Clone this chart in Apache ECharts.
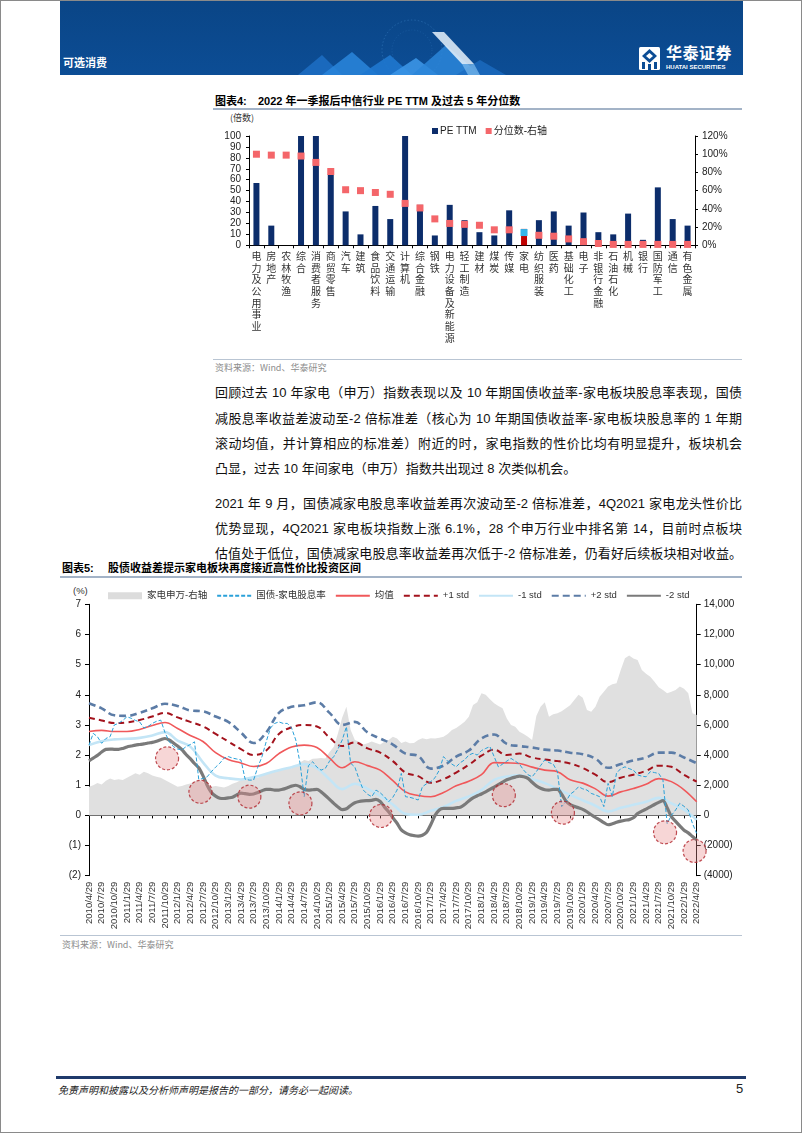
<!DOCTYPE html>
<html>
<head>
<meta charset="utf-8">
<script src="https://cdn.jsdelivr.net/npm/echarts@6/dist/echarts.min.js"></script>
<style>
  html,body{margin:0;padding:0;background:#fff;}
  #page{position:relative;width:802px;height:1133px;overflow:hidden;background:#fff;
        font-family:"Liberation Sans","Noto Sans CJK SC",sans-serif;color:#000;}
  .abs{position:absolute;white-space:nowrap;}
  .frame{position:absolute;left:0;top:0;width:802px;height:1133px;box-sizing:border-box;border:1px solid #8a8a8a;pointer-events:none;z-index:5;}
  .title{font-family:"Liberation Sans","Noto Sans CJK SC",sans-serif;font-weight:bold;font-size:11px;line-height:15px;color:#000;}
  .rule{position:absolute;height:1.5px;background:#a3b3c7;}
  .src{font-family:"Noto Sans CJK SC",sans-serif;font-size:9px;line-height:12px;color:#8c8c8c;}
  .pl{position:absolute;left:215px;width:527px;font-size:13px;line-height:18px;
      font-family:"Liberation Sans","Noto Sans CJK SC",sans-serif;color:#111;
      text-align:justify;text-align-last:justify;white-space:nowrap;}
  .pl.last{text-align:left;text-align-last:left;}
  #chart{position:absolute;left:0;top:0;width:802px;height:1133px;z-index:3;}
</style>
</head>
<body>
<div id="page">
  <!-- header banner -->
  <div style="position:absolute;left:60px;top:0;width:683px;height:75px;background:linear-gradient(180deg,#0a4586 0%,#0c4d95 100%);overflow:hidden;">
    <svg width="683" height="75" xmlns="http://www.w3.org/2000/svg">
      <circle cx="352" cy="50" r="30" fill="none" stroke="#5aa6ea" stroke-opacity="0.35" stroke-width="0.8" stroke-dasharray="1.5 2"/>
      <circle cx="352" cy="50" r="20" fill="none" stroke="#5aa6ea" stroke-opacity="0.3" stroke-width="0.6" stroke-dasharray="1 2"/>
      <polygon points="238,75 262,55 282,75" fill="#1d6fc4" opacity="0.85"/>
      <polygon points="262,75 292,52 318,75" fill="#2a86dc" opacity="0.85"/>
      <polygon points="300,75 330,55 352,75" fill="#1f78cf" opacity="0.9"/>
      <polygon points="330,75 356,58 378,75" fill="#3b95e6" opacity="0.9"/>
      <polygon points="352,75 386,45 420,75" fill="#2b86d9" opacity="0.85"/>
      <polygon points="396,75 420,60 446,75" fill="#1c6cc0" opacity="0.8"/>
      <polygon points="372,32 384,32 414,64 402,64" fill="#e8f2fc" opacity="0.85"/>
      <polygon points="402,64 414,64 420,75 408,75" fill="#7fbdf0" opacity="0.7"/>
      <rect x="579" y="47" width="21" height="23" rx="1.5" fill="#ffffff"/>
      <polygon points="589.5,49 597,56 589.5,63 582,56" fill="#0c4d95"/>
      <polygon points="589.5,53 593,56 589.5,59 586,56" fill="#ffffff"/>
      <rect x="582" y="62" width="3" height="7" fill="#0c4d95"/>
      <rect x="588" y="64" width="3" height="6" fill="#0c4d95"/>
      <rect x="594" y="62" width="3" height="7" fill="#0c4d95"/>
    </svg>
    <div class="abs" style="left:3px;top:55px;font-family:'Noto Sans CJK SC';font-weight:bold;font-size:11px;line-height:14px;color:#fff;">可选消费</div>
    <div class="abs" style="left:606px;top:43px;font-family:'Noto Sans CJK SC';font-weight:bold;font-size:16px;line-height:19px;color:#fff;letter-spacing:0.5px;">华泰证券</div>
    <div class="abs" style="left:606px;top:63px;font-family:'Liberation Sans';font-weight:bold;font-size:6px;line-height:8px;color:#fff;">HUATAI SECURITIES</div>
  </div>

  <!-- chart 4 title -->
  <div class="abs title" style="left:215px;top:94px;">图表4:</div>
  <div class="abs title" style="left:258px;top:94px;">2022 年一季报后中信行业 PE TTM 及过去 5 年分位数</div>
  <div class="rule" style="left:213px;top:108px;width:529px;"></div>
  <div class="abs" style="left:230px;top:112px;font-family:'Noto Sans CJK SC';font-size:9px;line-height:12px;color:#333;">(倍数)</div>
  <div class="rule" style="left:213px;top:358.5px;width:529px;height:1px;background:#b9c5d3;"></div>
  <div class="abs src" style="left:215px;top:362px;">资料来源：Wind、华泰研究</div>

  <!-- paragraphs -->
  <div class="pl" style="top:384px;">回顾过去 10 年家电（申万）指数表现以及 10 年期国债收益率-家电板块股息率表现，国债</div>
  <div class="pl" style="top:410px;">减股息率收益差波动至-2 倍标准差（核心为 10 年期国债收益率-家电板块股息率的 1 年期</div>
  <div class="pl" style="top:435px;">滚动均值，并计算相应的标准差）附近的时，家电指数的性价比均有明显提升，板块机会</div>
  <div class="pl last" style="top:460px;">凸显，过去 10 年间家电（申万）指数共出现过 8 次类似机会。</div>

  <div class="pl" style="top:495px;">2021 年 9 月，国债减家电股息率收益差再次波动至-2 倍标准差，4Q2021 家电龙头性价比</div>
  <div class="pl" style="top:520px;">优势显现，4Q2021 家电板块指数上涨 6.1%，28 个申万行业中排名第 14，目前时点板块</div>
  <div class="pl" style="top:545px;">估值处于低位，国债减家电股息率收益差再次低于-2 倍标准差，仍看好后续板块相对收益。</div>

  <!-- chart 5 title -->
  <div class="abs title" style="left:62px;top:561px;">图表5:</div>
  <div class="abs title" style="left:108px;top:561px;">股债收益差提示家电板块再度接近高性价比投资区间</div>
  <div class="rule" style="left:60px;top:576px;width:682px;"></div>
  <div class="abs" style="left:73px;top:585px;font-family:'Liberation Sans';font-size:9.5px;line-height:12px;color:#333;">(%)</div>
  <div class="rule" style="left:60px;top:934.5px;width:682px;height:1px;background:#b9c5d3;"></div>
  <div class="abs src" style="left:62px;top:939px;">资料来源：Wind、华泰研究</div>

  <!-- footer -->
  <div style="position:absolute;left:56px;top:1076px;width:690px;height:2.5px;background:#1f3a6b;"></div>
  <div class="abs" style="left:58px;top:1083px;font-family:'Noto Sans CJK SC';font-style:italic;font-size:10px;line-height:14px;color:#222;">免责声明和披露以及分析师声明是报告的一部分，请务必一起阅读。</div>
  <div class="abs" style="left:736px;top:1081px;font-family:'Liberation Sans';font-size:13px;line-height:16px;color:#222;">5</div>

  <div id="chart"></div>
  <div class="frame"></div>
</div>

<script>
// ---------------- Chart 4 data ----------------
const industries = ['电力及公用事业','房地产','农林牧渔','综合','消费者服务','商贸零售','汽车','建筑','食品饮料','交通运输',
  '计算机','综合金融','钢铁','电力设备及新能源','轻工制造','建材','煤炭','传媒','家电','纺织服装',
  '医药','基础化工','电子','非银行金融','石油石化','机械','银行','国防军工','通信','有色金属'];
const peTTM = [57,18,0,100,100,65,31,10,36,24,100,37,9,37,23,12,9,32,15,23,31,18,30,12,10,29,5,53,24,18];
const pctRank = [100,99,99,98,91,81,61,60,58,56,46,41,29,24,23,22,17,17,14,11,10,7,4,2,1,1,1,1,1,1];
const highlightIndustry = '家电';

// ---------------- Chart 5 data ----------------
const quarterLabels = ['2010/4/29','2010/7/29','2010/10/29',
  '2011/1/29','2011/4/29','2011/7/29','2011/10/29',
  '2012/1/29','2012/4/29','2012/7/29','2012/10/29',
  '2013/1/29','2013/4/29','2013/7/29','2013/10/29',
  '2014/1/29','2014/4/29','2014/7/29','2014/10/29',
  '2015/1/29','2015/4/29','2015/7/29','2015/10/29',
  '2016/1/29','2016/4/29','2016/7/29','2016/10/29',
  '2017/1/29','2017/4/29','2017/7/29','2017/10/29',
  '2018/1/29','2018/4/29','2018/7/29','2018/10/29',
  '2019/1/29','2019/4/29','2019/7/29','2019/10/29',
  '2020/1/29','2020/4/29','2020/7/29','2020/10/29',
  '2021/1/29','2021/4/29','2021/7/29','2021/10/29',
  '2022/1/29','2022/4/29'];

// monthly values (2010/4 .. 2022/4)
const homeApplIndex = [1900,2000,2150,2050,2300,2450,2350,2400,2340,2500,2650,2790,2700,2900,2800,2650,2560,2500,2340,2200,
  2050,1900,1950,2050,2120,2250,2340,2200,2000,1900,1950,1900,1850,1950,2100,2200,2340,2450,2500,2570,
  2500,2650,2790,2850,2950,3000,3050,3150,3120,3300,3500,3670,3600,3750,3780,3800,3780,4200,4560,5440,
  6500,7200,5660,5000,4890,4700,4780,4900,4800,4700,4890,5000,5220,5100,4800,4900,4780,4800,5000,5110,
  5050,5110,5100,5150,5220,5400,5660,5800,6000,6210,6550,7320,7500,8100,8000,7700,7430,7250,7100,6430,
  6000,5880,5550,5400,5220,5000,6600,7210,7500,6550,6700,6770,6900,7100,7300,7650,8000,7800,6990,6880,
  7200,7870,8200,8540,8700,8760,9640,10420,10600,10400,10310,9640,9400,9200,8870,8500,8320,8100,8200,8320,
  8540,8400,8100,6770,6660];
const spread = [2.33,2.72,2.61,2.39,2.55,2.61,3.00,3.05,3.15,3.27,3.22,3.15,3.10,2.90,2.95,3.05,3.12,3.16,2.75,2.45,
  2.28,2.20,2.17,2.28,2.35,2.44,1.20,1.22,1.28,1.45,1.60,1.73,1.90,1.95,1.90,1.87,1.84,1.20,1.17,1.17,
  1.60,1.95,2.45,2.90,3.05,3.10,3.05,3.05,2.90,2.50,1.73,0.62,1.65,1.78,1.60,1.50,1.56,1.80,1.95,2.20,
  2.50,2.94,1.73,1.60,1.20,0.84,0.70,0.62,0.84,0.75,0.62,0.45,0.60,0.84,1.39,0.62,0.60,0.56,0.51,0.95,
  1.05,1.12,1.25,1.50,1.95,1.80,1.70,1.61,1.75,1.84,2.00,2.06,2.00,2.15,2.22,2.28,1.95,1.61,1.70,1.80,
  1.89,1.80,1.70,1.50,1.35,1.28,1.45,1.65,1.84,1.75,1.70,1.45,0.29,0.45,0.70,0.80,0.95,0.88,0.84,0.73,
  0.68,0.62,0.29,1.06,0.62,1.40,1.55,1.61,1.55,1.50,1.34,1.30,1.28,1.45,1.42,1.39,1.17,-0.27,0.00,0.18,
  0.40,0.30,0.18,-0.27,-0.60];
const minus2Std = [1.81,1.90,1.99,2.10,2.19,2.20,2.19,2.19,2.22,2.27,2.30,2.33,2.35,2.37,2.40,2.42,2.46,2.51,2.55,2.50,
  2.40,2.30,2.18,2.02,1.88,1.72,1.58,1.32,1.00,0.76,0.64,0.57,0.56,0.58,0.60,0.68,0.74,0.72,0.70,0.71,
  0.76,0.82,0.86,0.86,0.84,0.84,0.87,0.92,0.97,1.00,0.95,0.86,0.84,0.85,0.86,0.78,0.66,0.53,0.40,0.28,
  0.19,0.22,0.33,0.42,0.46,0.48,0.49,0.50,0.53,0.46,0.28,0.12,-0.08,-0.26,-0.48,-0.58,-0.64,-0.67,-0.69,-0.66,
  -0.56,-0.30,0.00,0.18,0.23,0.23,0.23,0.25,0.27,0.36,0.48,0.58,0.65,0.71,0.78,0.86,0.94,1.02,1.10,1.18,
  1.23,1.27,1.30,1.28,1.23,1.10,0.98,0.90,0.85,0.84,0.86,0.86,0.70,0.48,0.36,0.30,0.25,0.20,0.12,0.02,
  -0.07,-0.15,-0.24,-0.31,-0.28,-0.23,-0.19,-0.16,-0.14,-0.08,0.06,0.14,0.21,0.28,0.36,0.43,0.49,0.25,-0.04,-0.20,
  -0.35,-0.49,-0.58,-0.70,-0.82];
// quarterly values (every 3 months)
const meanLine = [2.78,2.82,2.78,2.78,2.85,2.98,3.08,2.88,2.65,2.45,2.08,1.85,1.74,1.62,1.72,2.05,2.27,2.33,2.25,1.90,
  1.58,1.78,1.65,1.50,1.15,0.78,0.66,0.62,0.76,0.98,1.13,1.35,1.75,1.74,1.72,1.60,1.50,1.45,1.18,1.07,
  0.88,0.64,0.78,0.89,1.03,1.22,1.12,0.85,0.45];
const plus1Std = [3.24,3.15,3.06,3.08,3.16,3.28,3.40,3.25,3.10,2.95,2.70,2.45,2.20,2.00,2.15,2.70,2.92,3.00,2.95,2.58,
  2.30,2.42,2.22,2.08,1.80,1.42,1.30,1.08,1.20,1.42,1.68,1.98,2.18,2.00,2.05,1.92,1.85,1.80,1.72,1.57,
  1.35,1.10,1.25,1.35,1.48,1.65,1.61,1.34,1.12];
const minus1Std = [2.33,2.46,2.52,2.54,2.57,2.65,2.76,2.48,2.28,1.76,1.32,1.23,1.19,1.27,1.38,1.50,1.60,1.70,1.57,1.20,
  0.87,1.05,0.88,0.65,0.36,0.05,0.02,0.15,0.28,0.48,0.63,0.84,1.18,1.29,1.33,1.20,1.07,0.88,0.68,0.50,
  0.32,0.13,0.25,0.35,0.45,0.58,0.40,0.19,-0.15];
const plus2Std = [3.72,3.55,3.32,3.30,3.40,3.55,3.70,3.63,3.48,3.45,3.28,3.10,2.75,2.40,2.75,3.40,3.60,3.65,3.75,3.40,
  3.00,3.10,2.75,2.55,2.35,2.05,1.97,1.55,1.65,1.95,2.15,2.55,2.68,2.37,2.30,2.25,2.18,2.15,2.08,2.03,
  1.88,1.58,1.70,1.82,1.92,2.08,2.08,1.92,1.73];
// highlighted opportunity points (month index, %)
const oppMonth = [18.5,26.4,38.0,50.1,69.2,98.3,112.3,136.5,143.5];
const oppValue = [1.89,0.78,0.62,0.40,-0.02,0.67,0.09,-0.56,-1.18];

// ---------------- build ----------------
const pairs = (arr, step) => arr.map((v, i) => [i * step, v]);
const AX = '#000';
const FONT = 'Liberation Sans, Noto Sans CJK SC, sans-serif';
const CJK = 'Noto Sans CJK SC, sans-serif';
const paren = v => v < 0 ? '(' + (-v) + ')' : String(v);
const parenK = v => v < 0 ? '(' + (-v) + ')' : v.toLocaleString('en-US');

const chart = echarts.init(document.getElementById('chart'), null, {renderer: 'canvas'});
const option = {
  animation: false,
  backgroundColor: 'transparent',
  textStyle: {fontFamily: FONT},
  grid: [
    {left: 249, top: 136, width: 446, height: 109.3},
    {left: 89, top: 604.3, width: 607.7, height: 271.4}
  ],
  legend: [
    {
      left: 427, top: 121, itemWidth: 6, itemHeight: 6, itemGap: 9, icon: 'rect',
      textStyle: {fontSize: 10, color: '#222', fontFamily: FONT, padding: [0, 0, 0, -3]},
      data: ['PE TTM', '分位数-右轴']
    },
    {
      left: 103, top: 586, itemWidth: 34, itemHeight: 7, itemGap: 9,
      itemStyle: {opacity: 0},
      textStyle: {fontSize: 9.5, color: '#333', fontFamily: FONT},
      data: [
        {name: '家电申万-右轴', icon: 'rect', itemStyle: {opacity: 1, color: '#dcdcdc'}},
        '国债-家电股息率', '均值', '+1 std', '-1 std', '+2 std', '-2 std'
      ]
    }
  ],
  xAxis: [
    {
      type: 'category', gridIndex: 0, data: industries,
      axisLine: {lineStyle: {color: AX, width: 1}},
      axisTick: {show: true, length: 3, lineStyle: {color: AX}},
      axisLabel: {
        interval: 0, margin: 5, fontSize: 10, lineHeight: 11.7, color: '#333', fontFamily: CJK,
        formatter: v => v.split('').join('\n')
      },
      splitLine: {show: false}
    },
    {
      type: 'value', gridIndex: 1, min: 0, max: 144, interval: 3,
      axisLine: {onZero: true, lineStyle: {color: AX, width: 1}},
      axisTick: {show: true, length: 3, lineStyle: {color: AX}},
      axisLabel: {show: false},
      splitLine: {show: false}
    },
    {
      type: 'value', gridIndex: 1, min: 0, max: 144, interval: 3, position: 'bottom',
      axisLine: {show: false, onZero: false},
      axisTick: {show: false},
      axisLabel: {
        rotate: 90, margin: 6, fontSize: 9.5, color: '#333', fontFamily: FONT,
        formatter: v => quarterLabels[Math.round(v / 3)] || ''
      },
      splitLine: {show: false}
    }
  ],
  yAxis: [
    {
      type: 'value', gridIndex: 0, min: 0, max: 100, interval: 10, position: 'left',
      axisLine: {show: true, onZero: false, lineStyle: {color: AX}},
      axisTick: {show: true, length: 3, lineStyle: {color: AX}},
      axisLabel: {fontSize: 10, color: '#222', margin: 8},
      splitLine: {show: false}
    },
    {
      type: 'value', gridIndex: 0, min: 0, max: 120, interval: 20, position: 'right',
      axisLine: {show: true, onZero: false, lineStyle: {color: AX}},
      axisTick: {show: true, length: 3, lineStyle: {color: AX}},
      axisLabel: {fontSize: 10, color: '#222', margin: 7, formatter: '{value}%'},
      splitLine: {show: false}
    },
    {
      type: 'value', gridIndex: 1, min: -2, max: 7, interval: 1, position: 'left',
      axisLine: {show: true, onZero: false, lineStyle: {color: AX}},
      axisTick: {show: true, length: 4, lineStyle: {color: AX}},
      axisLabel: {fontSize: 10, color: '#222', margin: 8, formatter: paren},
      splitLine: {show: false}
    },
    {
      type: 'value', gridIndex: 1, min: -4000, max: 14000, interval: 2000, position: 'right',
      axisLine: {show: true, onZero: false, lineStyle: {color: AX}},
      axisTick: {show: true, length: 4, lineStyle: {color: AX}},
      axisLabel: {fontSize: 10, color: '#222', margin: 7, formatter: parenK},
      splitLine: {show: false}
    }
  ],
  series: [
    {
      name: 'PE TTM', type: 'bar', xAxisIndex: 0, yAxisIndex: 0, barWidth: 6,
      itemStyle: {color: '#0c2d6b'},
      data: peTTM.map((v, i) => industries[i] === highlightIndustry ? {value: v, itemStyle: {color: '#c00000'}} : v),
      z: 2
    },
    {
      name: '分位数-右轴', type: 'scatter', xAxisIndex: 0, yAxisIndex: 1, symbol: 'rect', symbolSize: 7,
      itemStyle: {color: '#f4666a', opacity: 1},
      data: pctRank.map((v, i) => industries[i] === highlightIndustry ? {value: v, itemStyle: {color: '#35b5ea'}} : v),
      z: 3
    },
    {
      name: '家电申万-右轴', type: 'line', xAxisIndex: 1, yAxisIndex: 3, symbol: 'none',
      itemStyle: {color: '#dddddd'},
      lineStyle: {width: 0, color: '#dddddd'},
      areaStyle: {color: '#e0e0e0', opacity: 1},
      data: pairs(homeApplIndex, 1), z: 1
    },
    {
      name: '+2 std', type: 'line', xAxisIndex: 1, yAxisIndex: 2, symbol: 'none', smooth: 0.4,
      itemStyle: {color: '#5c7ca6'},
      lineStyle: {color: '#5c7ca6', width: 2.6, type: [7, 4]},
      data: pairs(plus2Std, 3), z: 3
    },
    {
      name: '+1 std', type: 'line', xAxisIndex: 1, yAxisIndex: 2, symbol: 'none', smooth: 0.4,
      itemStyle: {color: '#a3121c'},
      lineStyle: {color: '#a3121c', width: 2, type: [6, 4]},
      data: pairs(plus1Std, 3), z: 3
    },
    {
      name: '-1 std', type: 'line', xAxisIndex: 1, yAxisIndex: 2, symbol: 'none', smooth: 0.4,
      itemStyle: {color: '#c3e5f6'},
      lineStyle: {color: '#c3e5f6', width: 2.6},
      data: pairs(minus1Std, 3), z: 3
    },
    {
      name: '均值', type: 'line', xAxisIndex: 1, yAxisIndex: 2, symbol: 'none', smooth: 0.4,
      itemStyle: {color: '#f0585a'},
      lineStyle: {color: '#f0585a', width: 1.6},
      data: pairs(meanLine, 3), z: 4
    },
    {
      name: '-2 std', type: 'line', xAxisIndex: 1, yAxisIndex: 2, symbol: 'none', smooth: 0.3,
      itemStyle: {color: '#7a7a7a'},
      lineStyle: {color: '#7a7a7a', width: 3.2},
      data: pairs(minus2Std, 1), z: 4
    },
    {
      name: '国债-家电股息率', type: 'line', xAxisIndex: 1, yAxisIndex: 2, symbol: 'none',
      itemStyle: {color: '#2aa1d9'},
      lineStyle: {color: '#2aa1d9', width: 1, type: [4, 2]},
      data: pairs(spread, 1), z: 5
    },
    {
      name: 'opportunity', type: 'scatter', xAxisIndex: 1, yAxisIndex: 2, symbol: 'circle', symbolSize: 23,
      itemStyle: {color: 'rgba(234,140,140,0.45)', borderColor: '#b0242c', borderWidth: 1.2, borderType: [3, 2]},
      data: oppMonth.map((m, i) => [m, oppValue[i]]), z: 6
    }
  ]
};
chart.setOption(option);
</script>
</body>
</html>
